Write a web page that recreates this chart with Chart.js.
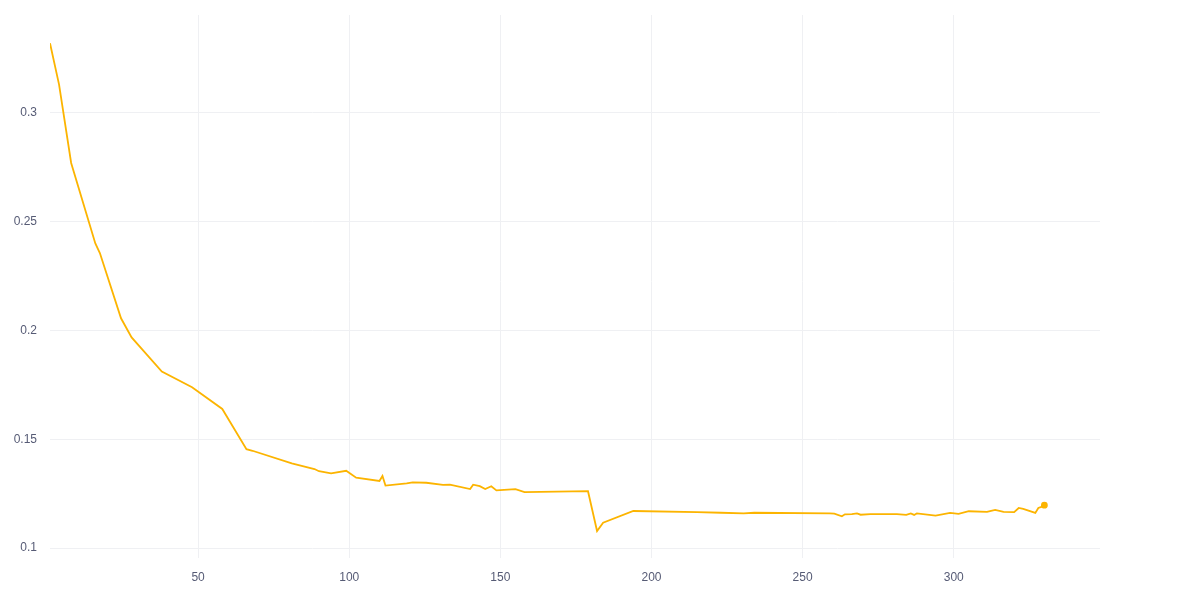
<!DOCTYPE html>
<html>
<head>
<meta charset="utf-8">
<script src="https://cdn.jsdelivr.net/npm/chart.js@4/dist/chart.umd.min.js"></script>
<style>
html,body{margin:0;padding:0;background:#fff;}
#wrap{width:1200px;height:600px;position:relative;}
</style>
</head>
<body>
<div id="wrap"><canvas id="c"></canvas></div>
<script>
const xValues = [1,4,8,16,17.5,24.5,28,38,48,58,66,68,81,88.5,90,94,99,102.3,110,111,112,119,121,125.5,131,133.3,140,141,143.2,145,147,148.7,155,158,179,182,184,194,215,223,230.5,234,259,260.5,263,264,266.3,268,269.2,272.4,281.2,284.3,285.8,286.9,287.8,294,298.8,301.6,305,311,313.7,316.5,320,321.5,323,327,328,329,330];
const yValues = [0.332,0.313,0.277,0.240,0.2356,0.2056,0.1968,0.1811,0.1739,0.1639,0.1454,0.1447,0.1389,0.1363,0.1353,0.1343,0.1355,0.1323,0.1308,0.1331,0.1287,0.1297,0.1302,0.1300,0.1290,0.1291,0.1271,0.1291,0.1284,0.1271,0.1284,0.1265,0.1271,0.1257,0.1261,0.1078,0.1116,0.1170,0.1165,0.1162,0.1159,0.1162,0.1159,0.1158,0.1146,0.1155,0.1156,0.1159,0.1153,0.1156,0.1156,0.1152,0.1159,0.1152,0.1159,0.1149,0.1161,0.1157,0.1169,0.1166,0.1175,0.1166,0.1165,0.1184,0.1180,0.1161,0.1184,0.1189,0.1197];
const xTicks = [50,100,150,200,250,300];
const yTicks = [0.1,0.15,0.2,0.25,0.3];

const points = xValues.map((x,i)=>({x:x,y:yValues[i]}));
const lastIdx = points.length-1;
const labelColor = '#565b75';
const gridColor = '#eff0f3';

new Chart(document.getElementById('c'), {
  type:'line',
  data:{datasets:[{
    data:points,
    borderColor:'#fcb400',
    backgroundColor:'#fcb400',
    borderWidth:1.8,
    pointRadius:ctx=>ctx.dataIndex===lastIdx?2.5:0,
    pointHoverRadius:0,
    tension:0,
    fill:false
  }]},
  options:{
    responsive:true,
    maintainAspectRatio:false,
    animation:false,
    layout:{padding:{left:0,right:100,top:15,bottom:0}},
    plugins:{legend:{display:false},tooltip:{enabled:false}},
    scales:{
      x:{
        type:'linear',
        min:1,max:348.4,
        border:{display:false},
        grid:{color:gridColor,lineWidth:1,drawTicks:true,tickLength:10,tickColor:gridColor},
        afterBuildTicks:s=>{s.ticks=xTicks.map(v=>({value:v}));},
        ticks:{color:labelColor,padding:12,maxRotation:0,font:{family:'Liberation Sans, Arial, sans-serif',size:12}},
        afterFit:s=>{s.height=52;s.paddingLeft=0;s.paddingRight=0;}
      },
      y:{
        min:0.1,max:0.345,
        border:{display:false},
        grid:{color:gridColor,lineWidth:1,drawTicks:false},
        afterBuildTicks:s=>{s.ticks=yTicks.map(v=>({value:v}));},
        ticks:{color:labelColor,padding:13,font:{family:'Liberation Sans, Arial, sans-serif',size:12},
          callback:v=>String(+v.toFixed(2))},
        afterFit:s=>{s.width=50;s.paddingTop=0;s.paddingBottom=0;}
      }
    }
  }
});
</script>
</body>
</html>
